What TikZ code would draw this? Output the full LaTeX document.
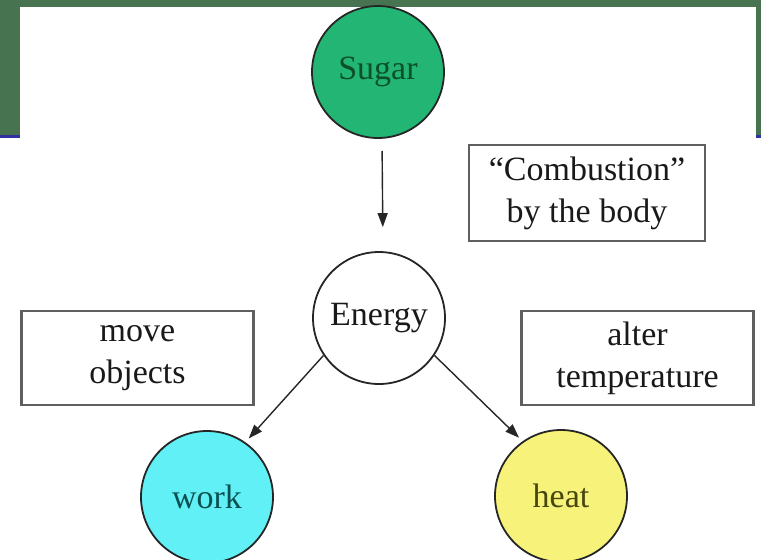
\documentclass[tikz,border=0pt]{standalone}
\usepackage{fontspec}
\setmainfont{Liberation Serif}
\definecolor{slidegreen}{RGB}{72,115,80}
\definecolor{slideblue}{RGB}{48,48,160}
\definecolor{sugarfill}{RGB}{34,181,115}
\definecolor{sugartext}{RGB}{12,80,40}
\definecolor{workfill}{RGB}{96,240,246}
\definecolor{worktext}{RGB}{10,80,80}
\definecolor{heatfill}{RGB}{246,242,122}
\definecolor{heattext}{RGB}{70,70,15}
\definecolor{boxline}{RGB}{95,95,95}
\usetikzlibrary{arrows.meta,positioning}

\begin{document}
\begin{tikzpicture}[x=1pt,y=-1pt,
  bubble/.style={circle, draw=black!85, line width=1.8pt, minimum size=132pt, inner sep=0pt,
    font=\fontsize{34}{42}\selectfont},
  notebox/.style={rectangle, draw=boxline, line width=2.4pt, inner sep=0pt, align=center,
    font=\fontsize{34}{42}\selectfont, text=black!90},
  flow/.style={-{Triangle[length=14pt,width=10pt]}, line width=1.4pt, draw=black!85}]
  \useasboundingbox (0,0) rectangle (761,560);

  % slide frame
  \fill[slidegreen] (0,0) rectangle (761,7);
  \fill[slidegreen] (0,0) rectangle (20,136);
  \fill[slidegreen] (756,0) rectangle (761,136);
  \fill[slideblue] (0,135) rectangle (20,137.5);
  \fill[slideblue] (756,135) rectangle (761,137.5);

  % circles
  \node[bubble, fill=sugarfill, text=sugartext] (sugar) at (378,72) {Sugar};
  \node[bubble, fill=white, text=black!90] (energy) at (379,318) {Energy};
  \node[bubble, fill=workfill, text=worktext] (work) at (207,497) {work};
  \node[bubble, fill=heatfill, text=heattext] (heat) at (561,496) {heat};

  % notes
  \node[notebox, minimum width=236pt, minimum height=96pt] (combust) at (587,193) {``Combustion''\\by the body};
  \node[notebox, minimum width=232pt, minimum height=94pt] (moveobj) at (137.5,358) {move\\objects};
  \node[notebox, minimum width=232pt, minimum height=94pt] (altertemp) at (637.5,358) {alter\\temperature};

  % arrows
  \draw[flow, shorten <=12pt, shorten >=24pt] ([xshift=4pt]sugar.south) -- ([xshift=4pt]energy.north);
  \draw[flow, shorten >=5pt] (energy.214) -- (work.55);
  \draw[flow, shorten >=5pt] (energy.326) -- (heat.125);
\end{tikzpicture}
\end{document}
